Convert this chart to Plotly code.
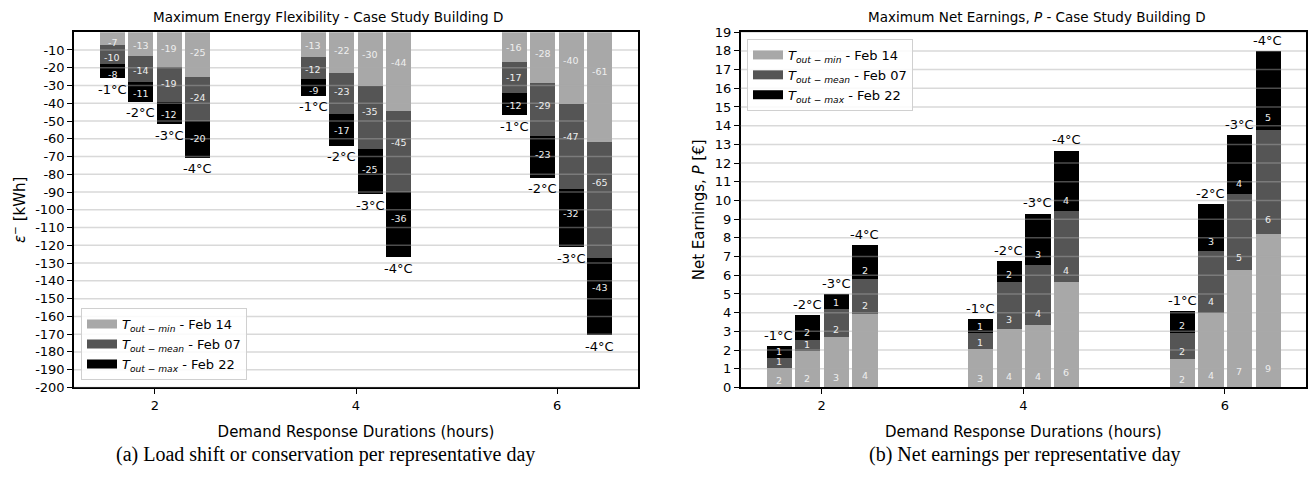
import math
import plotly.graph_objects as go

# Demand response durations (hours) and the set-point reductions per duration
durations = [2, 4, 6]
temp_steps = ["-1°C", "-2°C", "-3°C", "-4°C"]

# Energy flexibility (kWh), ordered duration-major: 2h(-1..-4°C), 4h(...), 6h(...)
energy_min = [-7.5, -13.6, -19.6, -25.6, -13.8, -22.8, -30.6, -44.7, -16.7, -28.8, -40.8, -61.7]
energy_mean = [-10.3, -14.3, -19.8, -24.7, -12.5, -23.5, -35.3, -45.6, -17.4, -29.7, -47.8, -65.6]
energy_max = [-8.2, -11.3, -12.3, -20.4, -9.5, -17.6, -25.4, -36.3, -12.6, -23.5, -32.7, -43.4]

# Net earnings P (EUR), same ordering
earn_min = [1.04, 1.95, 2.68, 3.90, 2.04, 3.11, 3.34, 5.62, 1.52, 3.98, 6.27, 8.17]
earn_mean = [0.51, 0.57, 1.52, 1.90, 0.86, 2.51, 3.22, 3.79, 1.38, 3.33, 4.06, 5.58]
earn_max = [0.66, 1.33, 0.77, 1.79, 0.73, 1.14, 2.73, 3.25, 1.16, 2.47, 3.16, 4.23]

series_names = [
    "<i>T</i><sub><i>out − min</i></sub> - Feb 14",
    "<i>T</i><sub><i>out − mean</i></sub> - Feb 07",
    "<i>T</i><sub><i>out − max</i></sub> - Feb 22",
]
series_colors = ["#a8a8a8", "#555555", "#000000"]

energy_ticks = list(range(-10, -201, -10))
earn_ticks = list(range(0, 20))

FONT = "DejaVu Sans"
SERIF = "Liberation Serif"
GRID = "rgba(170,170,170,0.45)"
BAR_W = 0.25
step_offsets = [-0.425, -0.142, 0.142, 0.425]

xpos = [d + o for d in durations for o in step_offsets]

fig = go.Figure()
annotations = []


def add_stack(series, xaxis, yaxis, legend, label_pos):
    cum = [0.0] * len(xpos)
    for vals, name, color in zip(series, series_names, series_colors):
        fig.add_trace(go.Bar(
            x=xpos, y=vals, width=BAR_W, marker=dict(color=color, line=dict(width=0)),
            xaxis=xaxis, yaxis=yaxis, showlegend=False, name=name,
            hoverinfo="skip",
        ))
        # legend proxy drawn as a wide patch
        fig.add_trace(go.Scatter(
            x=[None], y=[None], mode="lines", line=dict(color=color, width=9),
            name=name, legend=legend, xaxis=xaxis, yaxis=yaxis,
        ))
        for i, (xv, v) in enumerate(zip(xpos, vals)):
            annotations.append(dict(
                x=xv, y=label_pos(cum[i], v), xref=xaxis, yref=yaxis,
                text=str(math.ceil(v)), showarrow=False,
                xanchor="center", yanchor="middle",
                font=dict(family=FONT, size=9.5, color="#eeeeee"),
            ))
            cum[i] += v
    return cum


# Left: energy flexibility, stacks grow downward
tot_e = add_stack([energy_min, energy_mean, energy_max], "x", "y", "legend",
                  lambda start, v: start + 0.3 * v - 3.5)
# Right: net earnings, stacks grow upward
tot_p = add_stack([earn_min, earn_mean, earn_max], "x2", "y2", "legend2",
                  lambda start, v: start + 0.09 * v + 0.3)

for i, xv in enumerate(xpos):
    step = temp_steps[i % 4]
    annotations.append(dict(x=xv, y=tot_e[i], xref="x", yref="y", text=step,
                            showarrow=False, yshift=-11, xanchor="center", yanchor="middle",
                            font=dict(family=FONT, size=13, color="black")))
    annotations.append(dict(x=xv, y=tot_p[i], xref="x2", yref="y2", text=step,
                            showarrow=False, yshift=11, xanchor="center", yanchor="middle",
                            font=dict(family=FONT, size=13, color="black")))


def paper_text(px, py, text, family, size):
    return dict(x=px / 1314, y=1 - py / 488, xref="paper", yref="paper", text=text,
                showarrow=False, xanchor="center", yanchor="middle",
                font=dict(family=family, size=size, color="black"))


# Titles and captions
annotations += [
    paper_text(328, 10, "Maximum Energy Flexibility - Case Study Building D", FONT, 13.5),
    paper_text(1037, 10, "Maximum Net Earnings, <i>P</i> - Case Study Building D", FONT, 13.5),
    paper_text(325, 462, "(a) Load shift or conservation per representative day", SERIF, 20),
    paper_text(1025, 462, "(b) Net earnings per representative day", SERIF, 20),
]

# Horizontal grid lines drawn above the bars
shapes = []
for t in energy_ticks:
    shapes.append(dict(type="line", xref="x domain", yref="y", x0=0, x1=1, y0=t, y1=t,
                       layer="above", line=dict(color=GRID, width=1.5)))
for t in earn_ticks[1:]:
    shapes.append(dict(type="line", xref="x2 domain", yref="y2", x0=0, x1=1, y0=t, y1=t,
                       layer="above", line=dict(color=GRID, width=1.5)))

axis_common = dict(
    showline=True, mirror=True, linecolor="black", linewidth=1.5,
    ticks="outside", ticklen=5, tickwidth=1.3, tickcolor="black",
    showgrid=False, zeroline=False,
    tickfont=dict(family=FONT, size=13, color="black"),
)
label_font = dict(family=FONT, size=15, color="black")

fig.update_layout(
    width=1314, height=488, margin=dict(l=0, r=0, t=0, b=0),
    paper_bgcolor="white", plot_bgcolor="white",
    barmode="relative", bargap=0,
    annotations=annotations, shapes=shapes,
    xaxis=dict(domain=[74 / 1314, 638 / 1314], range=[1.195, 6.805],
               tickvals=durations, ticktext=[str(d) for d in durations],
               title=dict(text="Demand Response Durations (hours)", standoff=15, font=label_font),
               **axis_common),
    yaxis=dict(domain=[1 - 392.5 / 488, 1 - 26 / 488], range=[-200, 0],
               tickvals=energy_ticks, ticktext=[str(t) for t in energy_ticks],
               title=dict(text="<i>ε</i><sup>−</sup> [kWh]", standoff=6, font=label_font),
               **axis_common),
    xaxis2=dict(domain=[740.6 / 1314, 1306 / 1314], range=[1.195, 6.805], anchor="y2",
                tickvals=durations, ticktext=[str(d) for d in durations],
                title=dict(text="Demand Response Durations (hours)", standoff=15, font=label_font),
                **axis_common),
    yaxis2=dict(domain=[1 - 392.5 / 488, 1 - 26 / 488], range=[0, 19], anchor="x2",
                tickvals=earn_ticks, ticktext=[str(t) for t in earn_ticks],
                title=dict(text="Net Earnings, <i>P</i> [€]", standoff=6, font=label_font),
                **axis_common),
    legend=dict(x=81 / 1314, y=1 - 385 / 488, xanchor="left", yanchor="bottom",
                bgcolor="rgba(255,255,255,0.85)", bordercolor="#d0d0d0", borderwidth=1,
                font=dict(family=FONT, size=13, color="black"), tracegroupgap=0),
    legend2=dict(x=747 / 1314, y=1 - 33 / 488, xanchor="left", yanchor="top",
                 bgcolor="rgba(255,255,255,0.85)", bordercolor="#d0d0d0", borderwidth=1,
                 font=dict(family=FONT, size=13, color="black"), tracegroupgap=0),
)

fig.write_html("out.html")
